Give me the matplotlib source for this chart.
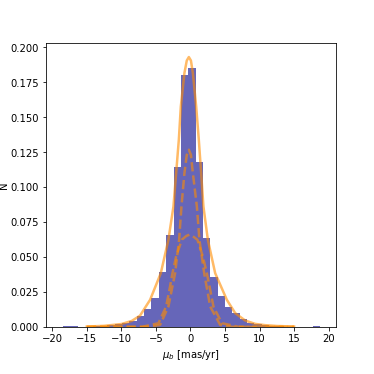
import numpy as np
import matplotlib
matplotlib.use("Agg")
import matplotlib.pyplot as plt

# histogram of mu_b, 35 bins
bin_edges = np.linspace(-18.39, 18.80, 36)
counts = [0.0003, 0.0003, 0.0001, 0.0002, 0.0004, 0.0008, 0.0012, 0.0022, 0.0028, 0.0040,
          0.0075, 0.0130, 0.0205, 0.0390, 0.0660, 0.1145, 0.1800, 0.1850, 0.1180, 0.0635,
          0.0353, 0.0217, 0.0145, 0.0100, 0.0055, 0.0030, 0.0019, 0.0014, 0.0008, 0.0004,
          0.0002, 0.0001, 0.0001, 0.0002, 0.0003]

# total model
x_tot = [-15.0, -12.5, -10.0, -8.5, -7.3, -5.84, -4.29, -3.19, -2.46, -2.07, -1.68, -1.39,
         -0.87, -0.53, -0.23, 0.07, 0.35, 0.83, 1.21, 1.55, 1.88, 2.52, 3.58, 5.27, 6.48,
         7.93, 9.38, 10.8, 12.5, 15.0]
y_tot = [0.0002, 0.0007, 0.0020, 0.0042, 0.0080, 0.0193, 0.0384, 0.0623, 0.0861, 0.110,
         0.1339, 0.1577, 0.1816, 0.1905, 0.193, 0.1905, 0.1816, 0.1577, 0.1339, 0.110,
         0.0861, 0.0623, 0.0384, 0.0193, 0.0098, 0.0045, 0.0021, 0.0012, 0.0006, 0.0002]

# narrow component
x_nar = [-15.0, -6.0, -4.39, -3.19, -2.22, -1.64, -1.30, -0.87, -0.53, -0.23, 0.07, 0.35,
         0.93, 1.30, 1.99, 2.86, 4.3, 6.0, 15.0]
y_nar = [0.0, 0.0, 0.0014, 0.0145, 0.0384, 0.0623, 0.0861, 0.110, 0.123, 0.1267, 0.123,
         0.110, 0.0861, 0.0623, 0.0384, 0.0145, 0.0014, 0.0, 0.0]

# wide component
x_wid = [-15.0, -7.0, -4.63, -3.52, -3.04, -2.6, -2.07, -1.25, -0.6, -0.15, 0.3, 1.01,
         1.8, 2.37, 2.86, 3.33, 4.55, 7.0, 15.0]
y_wid = [0.0, 0.0, 0.0026, 0.0145, 0.0265, 0.0384, 0.0503, 0.0623, 0.0650, 0.0659, 0.0650,
         0.0623, 0.0503, 0.0384, 0.0265, 0.0145, 0.0026, 0.0, 0.0]

fig = plt.figure(figsize=(5.2, 5.2), dpi=72)
ax = fig.add_subplot(111)
fig.subplots_adjust(left=0.123, right=0.898, bottom=0.126, top=0.885)

ax.bar(bin_edges[:-1], counts, width=np.diff(bin_edges), align="edge",
       color="darkblue", alpha=0.6)
ax.plot(x_tot, y_tot, color="darkorange", alpha=0.6, lw=2.5)
ax.plot(x_nar, y_nar, "--", color="darkorange", alpha=0.6, lw=2.5)
ax.plot(x_wid, y_wid, "--", color="darkorange", alpha=0.6, lw=2.5)

ax.set_xlim(-20.9, 21.1)
ax.set_ylim(0, 0.2033)
ax.set_yticks(np.arange(0, 0.2001, 0.025))
ax.set_xlabel(r"$\mu_b$ [mas/yr]")
ax.set_ylabel("N", labelpad=1)

fig.savefig("out.png", dpi=72)
